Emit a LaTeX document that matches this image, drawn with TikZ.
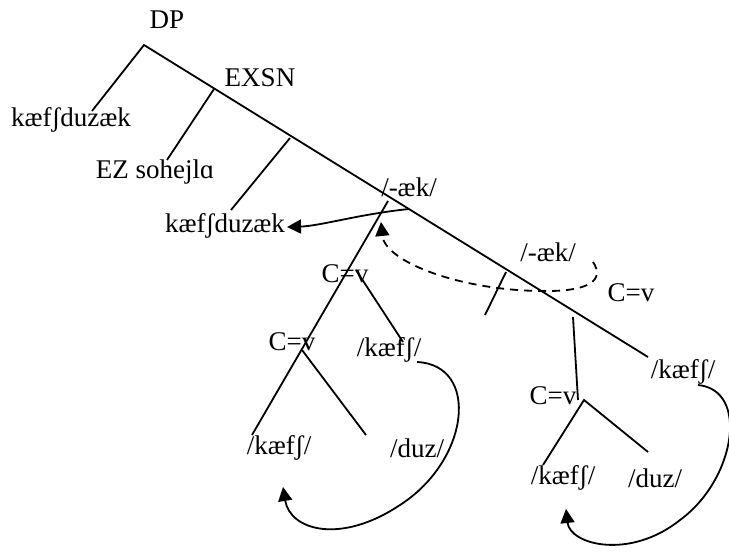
\documentclass[tikz,border=0pt]{standalone}
\usepackage{fontspec}
\setmainfont{Liberation Serif}
\usetikzlibrary{arrows.meta}
\begin{document}
\begin{tikzpicture}[x=0.5pt,y=-0.5pt,
  font=\fontsize{13.5}{16}\selectfont,
  lbl/.style={inner sep=0pt},
  branch/.style={line width=0.9pt},
  arr/.style={line width=0.9pt,-{Triangle[length=7pt,width=7pt]}},
  dasharr/.style={arr,dash pattern=on 4pt off 3pt}]
\useasboundingbox (0,0) rectangle (729,552);
% labels
\node[lbl] (dp)   at (167,20)  {DP};
\node[lbl] (w1)   at (71,120)  {kæfʃduzæk};
\node[lbl] (exsn) at (260,78)  {EXSN};
\node[lbl] (ez)   at (155,172) {EZ sohejlɑ};
\node[lbl] (w2)   at (225,226) {kæfʃduzæk};
\node[lbl] (ak1)  at (409,187) {/-æk/};
\node[lbl] (cvA)  at (345,274) {C=v};
\node[lbl] (kfA)  at (389,350) {/kæfʃ/};
\node[lbl] (cvB)  at (292,342) {C=v};
\node[lbl] (kfB)  at (279,448) {/kæfʃ/};
\node[lbl] (duzB) at (417,448) {/duz/};
\node[lbl] (ak2)  at (548,252) {/-æk/};
\node[lbl] (cvC)  at (631,293) {C=v};
\node[lbl] (cvD)  at (553,396) {C=v};
\node[lbl] (kfC)  at (683,372) {/kæfʃ/};
\node[lbl] (kfD)  at (563,478) {/kæfʃ/};
\node[lbl] (duzD) at (655,478) {/duz/};
% tree points
\coordinate (pDP)  at (144,45);
\coordinate (pEnd) at (648,357);
\coordinate (pW1)  at (92,111);
\coordinate (pEX)  at (214,89);
\coordinate (pEZ)  at (167,160);
\coordinate (pB2)  at (290,138);
\coordinate (pW2)  at (231,210);
\coordinate (pAK)  at (388,201);
\coordinate (pKB)  at (252,435);
\coordinate (pCA)  at (356,270);
\coordinate (pKA)  at (403,342);
\coordinate (pCB)  at (302,350);
\coordinate (pDB)  at (366,435);
\coordinate (pT1)  at (506,272);
\coordinate (pT2)  at (485,315);
\coordinate (pV1)  at (573,317);
\coordinate (pV2)  at (578,400);
\coordinate (pCD)  at (584,400);
\coordinate (pKD)  at (543,465);
\coordinate (pDD)  at (648,452);
% branches
\draw[branch] (pW1) -- (pDP) -- (pEnd);
\draw[branch] (pEX) -- (pEZ);
\draw[branch] (pB2) -- (pW2);
\draw[branch] (pAK) -- (pKB);
\draw[branch] (pCA) -- (pKA);
\draw[branch] (pCB) -- (pDB);
\draw[branch] (pT1) -- (pT2);
\draw[branch] (pV1) -- (pV2);
\draw[branch] (pKD) -- (pCD) -- (pDD);
% arrows
\coordinate (a1s) at (409,209);
\coordinate (a1e) at (287,227);
\draw[arr] (a1s) .. controls (360,214) and (320,226) .. (a1e);
\coordinate (a2s) at (593,262);
\coordinate (a2m) at (540,291);
\coordinate (a2e) at (381,222);
\draw[dasharr] (a2s) .. controls (605,280) and (590,292) .. (a2m)
  .. controls (460,290) and (385,262) .. (a2e);
\coordinate (a3s) at (417,362);
\coordinate (a3m) at (400,505);
\coordinate (a3e) at (283,487);
\draw[arr] (a3s) .. controls (480,365) and (470,460) .. (a3m)
  .. controls (340,545) and (290,530) .. (a3e);
\coordinate (a4s) at (698,385);
\coordinate (a4m) at (680,520);
\coordinate (a4e) at (566,509);
\draw[arr] (a4s) .. controls (750,390) and (735,480) .. (a4m)
  .. controls (630,560) and (570,545) .. (a4e);
\end{tikzpicture}
\end{document}
